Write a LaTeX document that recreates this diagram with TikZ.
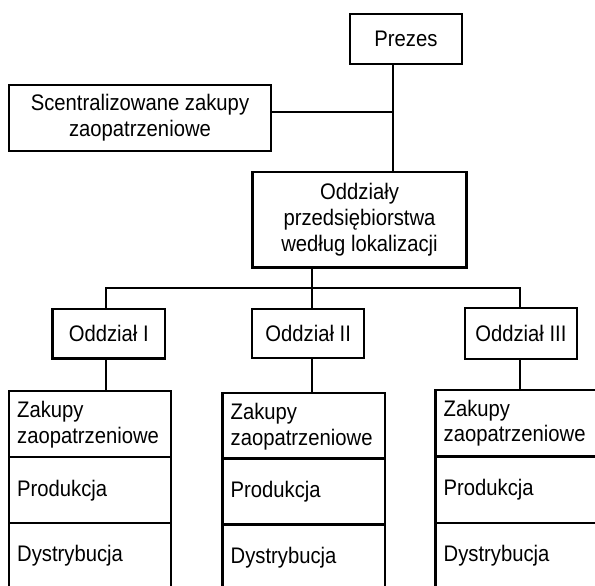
\documentclass[tikz,border=0pt]{standalone}
\usepackage{fontspec}
\setmainfont{Liberation Sans}[FakeStretch=0.9]
\begin{document}
\begin{tikzpicture}[x=1pt,y=-1pt,
  box/.style={draw=black, line width=2.1pt, rectangle, inner sep=0pt, align=center,
    font=\fontsize{22.5}{25.8}\selectfont},
  cell/.style={draw=black, line width=2.1pt, rectangle, inner sep=0pt},
  celltext/.style={anchor=base west, inner sep=0pt, align=left,
    font=\fontsize{22.5}{25.8}\selectfont},
  wire/.style={draw=black, line width=2.1pt}]
\path[use as bounding box] (0,0) rectangle (595,586);
\clip (0,0) rectangle (595,586);

% top of the hierarchy
\node[box, minimum width=112pt, minimum height=50pt] (prezes) at (406,39) {Prezes};
\node[box, minimum width=262pt, minimum height=66pt] (central) at (140,118)
  {Scentralizowane zakupy\\zaopatrzeniowe};
\node[box, minimum width=214pt, minimum height=95.5pt] (oddz) at (359.5,219.75)
  {Oddziały\\przedsiębiorstwa\\według lokalizacji};

% branches
\node[box, minimum width=112.5pt, minimum height=49.5pt] (o1) at (108.75,333.75) {Oddział I};
\node[box, minimum width=111.7pt, minimum height=49.6pt] (o2) at (308.2,333.5) {Oddział II};
\node[box, minimum width=111.7pt, minimum height=50.7pt] (o3) at (520.85,333.65) {Oddział III};

% function stacks under each branch
\node[cell, minimum width=162pt, minimum height=66pt] (s1a) at (90,424) {};
\node[cell, minimum width=162pt, minimum height=66pt] (s1b) at (90,490) {};
\node[cell, minimum width=162pt, minimum height=80pt] (s1c) at (90,563) {};
\node[cell, minimum width=162.5pt, minimum height=65.2pt] (s2a) at (303.75,425.9) {};
\node[cell, minimum width=162.5pt, minimum height=66pt] (s2b) at (303.75,491.5) {};
\node[cell, minimum width=162.5pt, minimum height=80pt] (s2c) at (303.75,564.5) {};
\node[cell, minimum width=184.5pt, minimum height=66.5pt] (s3a) at (527.75,423.25) {};
\node[cell, minimum width=184.5pt, minimum height=66.2pt] (s3b) at (527.75,489.6) {};
\node[cell, minimum width=184.5pt, minimum height=80pt] (s3c) at (527.75,562.7) {};

% cell labels; a two-line label sits on the baseline of its last line
\node[celltext] (t1a) at (17,443.5) {Zakupy\\zaopatrzeniowe};
\node[celltext] (t1b) at (17,496) {Produkcja};
\node[celltext] (t1c) at (17,561.7) {Dystrybucja};
\node[celltext] (t2a) at (230.5,445.3) {Zakupy\\zaopatrzeniowe};
\node[celltext] (t2b) at (230.5,497.5) {Produkcja};
\node[celltext] (t2c) at (230.5,563.2) {Dystrybucja};
\node[celltext] (t3a) at (443.5,441.8) {Zakupy\\zaopatrzeniowe};
\node[celltext] (t3b) at (443.5,495) {Produkcja};
\node[celltext] (t3c) at (443.5,561) {Dystrybucja};

% connectors
\coordinate (trunk) at (393,112);
\coordinate (drop) at (312,288);
\coordinate (busL) at (106,288);
\coordinate (busR) at (520,288);
\path[wire] (prezes.south -| trunk) -- (oddz.north -| trunk);
\path[wire] (trunk) -- (trunk -| central.east);
\path[wire] (oddz.south -| drop) -- (drop);
\path[wire, line cap=rect] (busL) -- (busR);
\path[wire] (busL) -- (busL |- o1.north);
\path[wire] (drop) -- (drop |- o2.north);
\path[wire] (busR) -- (busR |- o3.north);
\path[wire] (o1.south -| busL) -- (s1a.north -| busL);
\path[wire] (o2.south -| drop) -- (s2a.north -| drop);
\path[wire] (o3.south -| busR) -- (s3a.north -| busR);
\end{tikzpicture}
\end{document}
